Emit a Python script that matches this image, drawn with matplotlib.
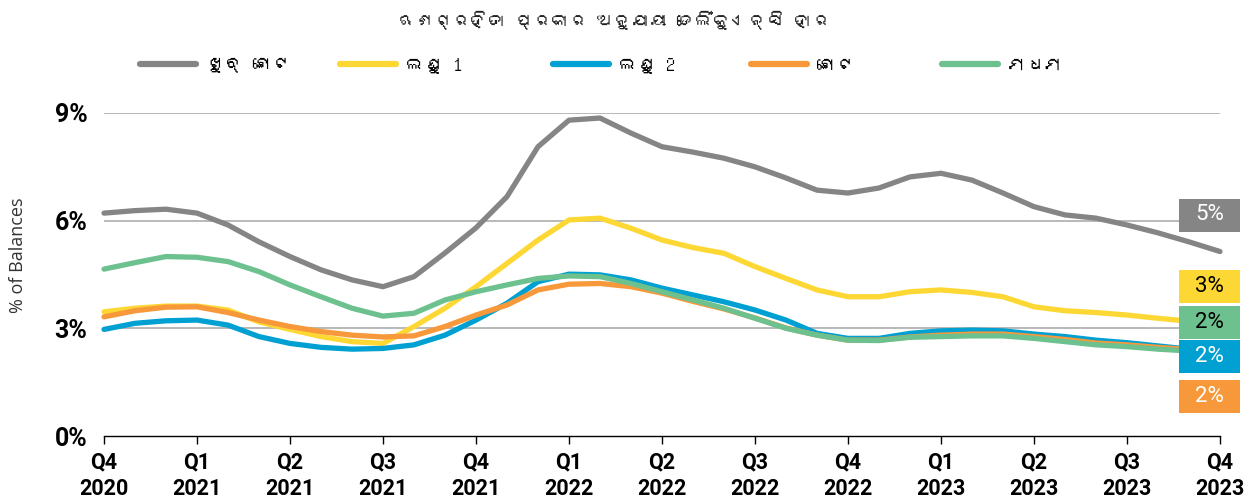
import matplotlib
matplotlib.use('Agg')
import matplotlib.pyplot as plt
from matplotlib import font_manager
from matplotlib.ft2font import FT2Font
from matplotlib.patches import Rectangle
import numpy as np

# look for any installed font that can draw Odia
odia = None
for f in font_manager.fontManager.ttflist:
    try:
        if FT2Font(f.fname).get_char_index(ord('ଣ')):
            odia = f.name
            break
    except Exception:
        pass
text_fam = [odia, 'DejaVu Sans'] if odia else ['DejaVu Sans']

title = 'ଋଣଗ୍ରହିତା ପ୍ରକାର ଅନୁଯାୟୀ ଡେଲିଂକୁଏନ୍ସି ହାର'
series_names = ['ଖୁବ୍ ଛୋଟ', 'ଲଘୁ 1', 'ଲଘୁ 2', 'ଛୋଟ', 'ମଧମ']
quarter_labels = ['Q4\n2020', 'Q1\n2021', 'Q2\n2021', 'Q3\n2021', 'Q4\n2021', 'Q1\n2022',
                  'Q2\n2022', 'Q3\n2022', 'Q4\n2022', 'Q1\n2023', 'Q2\n2023', 'Q3\n2023', 'Q4\n2023']

# monthly values, Dec 2020 .. Dec 2023 (% of balances)
very_small = [6.21, 6.28, 6.32, 6.21, 5.88, 5.41, 5.00, 4.63, 4.35, 4.16,
              4.44, 5.10, 5.80, 6.67, 8.06, 8.80, 8.86, 8.44, 8.06, 7.91,
              7.74, 7.50, 7.19, 6.85, 6.77, 6.91, 7.22, 7.32, 7.13, 6.77,
              6.39, 6.16, 6.07, 5.88, 5.66, 5.41, 5.14]
micro_1 = [3.46, 3.56, 3.62, 3.62, 3.51, 3.18, 2.97, 2.77, 2.63, 2.58,
           3.05, 3.56, 4.16, 4.81, 5.46, 6.02, 6.07, 5.79, 5.46, 5.25,
           5.09, 4.72, 4.39, 4.07, 3.88, 3.88, 4.02, 4.07, 4.00, 3.88,
           3.60, 3.49, 3.44, 3.37, 3.28, 3.20, 3.15]
micro_2 = [2.97, 3.14, 3.21, 3.23, 3.09, 2.77, 2.58, 2.47, 2.42, 2.44,
           2.54, 2.81, 3.23, 3.70, 4.30, 4.51, 4.49, 4.35, 4.12, 3.93,
           3.74, 3.51, 3.23, 2.86, 2.72, 2.72, 2.86, 2.93, 2.95, 2.93,
           2.84, 2.77, 2.67, 2.60, 2.51, 2.42, 2.34]
small = [3.32, 3.49, 3.59, 3.60, 3.44, 3.23, 3.05, 2.91, 2.81, 2.76,
         2.79, 3.05, 3.37, 3.65, 4.07, 4.23, 4.25, 4.16, 3.98, 3.75,
         3.54, 3.29, 3.01, 2.81, 2.67, 2.67, 2.76, 2.81, 2.84, 2.84,
         2.77, 2.69, 2.59, 2.54, 2.47, 2.41, 2.37]
medium = [4.65, 4.83, 5.00, 4.98, 4.86, 4.58, 4.21, 3.88, 3.56, 3.34,
          3.42, 3.79, 4.02, 4.21, 4.39, 4.46, 4.44, 4.25, 4.02, 3.79,
          3.56, 3.28, 3.00, 2.81, 2.67, 2.66, 2.75, 2.77, 2.79, 2.79,
          2.72, 2.63, 2.54, 2.49, 2.42, 2.37, 2.34]

colors = ['#858585', '#FDD835', '#00A0D2', '#F7993A', '#6CC18E']
label_text_colors = ['white', 'black', 'white', 'white', 'black']

fig = plt.figure(figsize=(12.6, 4.99), dpi=100)
ax = fig.add_axes([104 / 1260, 1 - 436 / 499, 1116 / 1260, 323 / 499])

months = np.arange(len(very_small))
all_series = [very_small, micro_1, micro_2, small, medium]
lines = []
for vals, name, c in zip(all_series, series_names, colors):
    ln, = ax.plot(months, vals, color=c, lw=3.8, solid_capstyle='round',
                  solid_joinstyle='round', label=name, clip_on=False, zorder=3)
    lines.append(ln)

ax.set_xlim(0, len(months) - 1)
ax.set_ylim(0, 9)
ax.set_yticks([0, 3, 6, 9])
ax.set_yticklabels(['0%', '3%', '6%', '9%'])
ax.set_xticks(np.arange(0, len(months), 3))
ax.set_xticklabels(quarter_labels)

for y in [3, 6, 9]:
    ax.axhline(y, color='#A6A6A6', lw=1.1, zorder=1)

for s in ['top', 'right', 'left']:
    ax.spines[s].set_visible(False)
ax.spines['bottom'].set_color('black')
ax.spines['bottom'].set_linewidth(1.0)

ax.tick_params(axis='y', length=0, pad=12, labelsize=18)
ax.tick_params(axis='x', length=6, width=1, color='black', pad=5, labelsize=15.5)
for t in ax.get_yticklabels():
    t.set_fontfamily('Roboto')
    t.set_fontweight('bold')
for t in ax.get_xticklabels():
    t.set_fontfamily('Roboto')
    t.set_fontweight('bold')
    t.set_linespacing(1.3)

fig.text(18 / 1260, 1 - 255 / 499, '% of Balances', rotation=90, ha='center', va='center',
         fontsize=13, color='#333333', family='Open Sans')

fig.text(614 / 1260, 1 - 20 / 499, title, ha='center', va='center', fontsize=13,
         color='#222222', family=text_fam)

# one legend entry per slot, at the reference positions
legend_x = [140, 340, 553, 751, 942]
for ln, lx in zip(lines, legend_x):
    leg = fig.legend(handles=[ln], loc='center left', bbox_to_anchor=(lx / 1260, 1 - 65 / 499),
                     frameon=False, handlelength=3.0, handletextpad=0.5, borderpad=0,
                     borderaxespad=0, prop={'family': text_fam, 'size': 13.5})
    for h in leg.get_lines():
        h.set_linewidth(4.5)

# end-of-line value boxes (stacked to avoid overlap)
box_centers = [215, 286, 356, 396, 322]
for vals, c, tc, yc in zip(all_series, colors, label_text_colors, box_centers):
    x0, w, h = 1179, 61, 33
    fig.add_artist(Rectangle((x0 / 1260, 1 - (yc + h / 2) / 499), w / 1260, h / 499,
                             transform=fig.transFigure, facecolor=c, edgecolor='none', zorder=5))
    fig.text((x0 + w / 2) / 1260, 1 - yc / 499, f'{int(round(vals[-1]))}%', ha='center',
             va='center', fontsize=16, color=tc, family='Roboto', zorder=6)

fig.savefig('out.png', dpi=100, facecolor='white')
